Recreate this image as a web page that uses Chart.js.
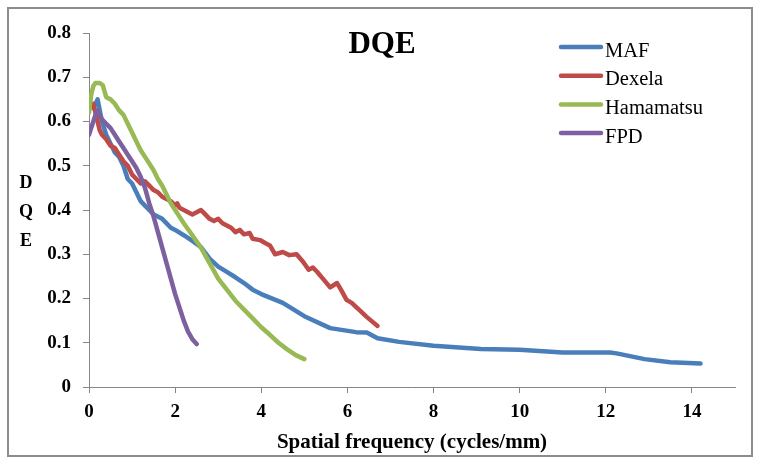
<!DOCTYPE html>
<html>
<head>
<meta charset="utf-8">
<script src="https://cdn.jsdelivr.net/npm/chart.js@4.4.0/dist/chart.umd.min.js"></script>
<style>
  html, body { margin: 0; padding: 0; background: #fff; }
  #wrap { width: 765px; height: 465px; }
</style>
</head>
<body>
<div id="wrap"><canvas id="dqeChart"></canvas></div>
<script>
const seriesNames = ['MAF', 'Dexela', 'Hamamatsu', 'FPD'];
const seriesColors = ['#4A7EBB', '#BE4B48', '#98B954', '#7D60A0'];
const xTickValues = [0, 2, 4, 6, 8, 10, 12, 14];

const mafFreq = [0.1, 0.2, 0.3, 0.4, 0.5, 0.6, 0.7, 0.8, 0.9, 1.0, 1.1, 1.2, 1.3, 1.5, 1.7, 1.9, 2.0, 2.2, 2.4, 2.6, 2.8, 3.0, 3.2, 3.4, 3.6, 3.8, 4.0, 4.5, 5.0, 5.6, 6.2, 6.45, 6.7, 7.2, 8.0, 9.1, 10.0, 11.0, 12.1, 12.25, 12.9, 13.5, 14.2];
const mafDqe  = [0.63, 0.65, 0.60, 0.57, 0.55, 0.53, 0.52, 0.50, 0.47, 0.46, 0.44, 0.42, 0.41, 0.39, 0.38, 0.36, 0.355, 0.343, 0.33, 0.316, 0.29, 0.272, 0.26, 0.248, 0.235, 0.22, 0.21, 0.19, 0.16, 0.133, 0.124, 0.123, 0.11, 0.102, 0.093, 0.086, 0.084, 0.078, 0.078, 0.076, 0.063, 0.056, 0.053];

const dexFreq = [0.1, 0.15, 0.2, 0.25, 0.3, 0.4, 0.5, 0.6, 0.7, 0.8, 0.9, 1.0, 1.1, 1.2, 1.3, 1.4, 1.5, 1.6, 1.7, 1.8, 1.9, 2.0, 2.05, 2.1, 2.2, 2.3, 2.4, 2.5, 2.6, 2.7, 2.8, 2.9, 3.0, 3.1, 3.2, 3.3, 3.4, 3.5, 3.6, 3.73, 3.8, 3.97, 4.1, 4.2, 4.32, 4.5, 4.65, 4.82, 4.97, 5.1, 5.2, 5.3, 5.43, 5.6, 5.76, 5.85, 5.98, 6.1, 6.21, 6.3, 6.44, 6.55, 6.7];
const dexDqe  = [0.64, 0.62, 0.60, 0.58, 0.57, 0.56, 0.545, 0.54, 0.525, 0.51, 0.50, 0.48, 0.47, 0.46, 0.465, 0.455, 0.445, 0.44, 0.43, 0.425, 0.42, 0.41, 0.415, 0.405, 0.40, 0.395, 0.39, 0.395, 0.40, 0.39, 0.38, 0.375, 0.38, 0.37, 0.365, 0.36, 0.35, 0.355, 0.345, 0.348, 0.335, 0.332, 0.325, 0.32, 0.30, 0.305, 0.298, 0.30, 0.283, 0.265, 0.27, 0.26, 0.245, 0.225, 0.235, 0.22, 0.197, 0.19, 0.18, 0.172, 0.159, 0.15, 0.138];

const hamFreq = [0.0, 0.05, 0.1, 0.15, 0.25, 0.32, 0.4, 0.5, 0.6, 0.7, 0.8, 0.9, 1.0, 1.1, 1.2, 1.3, 1.4, 1.5, 1.6, 1.7, 1.8, 1.9, 2.0, 2.1, 2.2, 2.4, 2.6, 2.8, 3.0, 3.2, 3.4, 3.6, 3.8, 4.0, 4.2, 4.4, 4.6, 4.8, 5.0];
const hamDqe  = [0.62, 0.66, 0.68, 0.687, 0.687, 0.682, 0.655, 0.65, 0.64, 0.625, 0.615, 0.595, 0.575, 0.555, 0.535, 0.52, 0.505, 0.49, 0.47, 0.455, 0.435, 0.415, 0.40, 0.385, 0.37, 0.343, 0.315, 0.28, 0.245, 0.22, 0.195, 0.175, 0.155, 0.135, 0.118, 0.1, 0.085, 0.072, 0.063];

const fpdFreq = [0.0, 0.05, 0.1, 0.15, 0.2, 0.25, 0.3, 0.4, 0.5, 0.6, 0.7, 0.8, 0.9, 1.0, 1.1, 1.2, 1.3, 1.4, 1.5, 1.6, 1.7, 1.8, 1.9, 2.0, 2.1, 2.2, 2.3, 2.4, 2.5];
const fpdDqe  = [0.57, 0.585, 0.60, 0.615, 0.625, 0.615, 0.605, 0.595, 0.585, 0.57, 0.555, 0.54, 0.525, 0.51, 0.495, 0.475, 0.45, 0.415, 0.385, 0.35, 0.315, 0.28, 0.245, 0.21, 0.18, 0.15, 0.125, 0.108, 0.097];

const serif = "'Liberation Serif', 'Times New Roman', serif";
const axisGray = '#868686';

function toPoints(xs, ys) {
  return xs.map((x, i) => ({ x: x, y: ys[i] }));
}

const allFreq = [mafFreq, dexFreq, hamFreq, fpdFreq];
const allDqe = [mafDqe, dexDqe, hamDqe, fpdDqe];

const datasets = seriesNames.map((name, i) => ({
  label: name,
  data: toPoints(allFreq[i], allDqe[i]),
  borderColor: seriesColors[i],
  backgroundColor: seriesColors[i],
  borderWidth: 4.5,
  borderJoinStyle: 'round',
  borderCapStyle: 'round',
  pointRadius: 0,
  tension: 0,
  order: seriesNames.length - i
}));

// frame, in-plot title, legend and the stacked y title
const decor = {
  id: 'decor',
  beforeDraw(chart) {
    const ctx = chart.ctx;
    ctx.save();
    ctx.fillStyle = '#fff';
    ctx.fillRect(0, 0, chart.width, chart.height);
    ctx.strokeStyle = '#8c8c8c';
    ctx.lineWidth = 2;
    ctx.strokeRect(8, 8, 744, 448);
    ctx.restore();
  },
  afterDraw(chart) {
    const ctx = chart.ctx;
    ctx.save();
    ctx.fillStyle = '#000';

    ctx.font = 'bold 31px ' + serif;
    ctx.textAlign = 'center';
    ctx.textBaseline = 'alphabetic';
    ctx.fillText('DQE', 382, 53);

    ctx.font = 'bold 18px ' + serif;
    ['D', 'Q', 'E'].forEach((ch, i) => ctx.fillText(ch, 26, 188 + i * 29));

    ctx.font = '20.5px ' + serif;
    ctx.textAlign = 'left';
    chart.data.datasets.forEach((ds, i) => {
      const y = 47 + i * 28.7;
      ctx.strokeStyle = ds.borderColor;
      ctx.lineWidth = 4.5;
      ctx.lineCap = 'round';
      ctx.beginPath();
      ctx.moveTo(561, y);
      ctx.lineTo(601, y);
      ctx.stroke();
      ctx.fillText(ds.label, 605, y + 9.5);
    });
    ctx.restore();
  }
};

const ctx = document.getElementById('dqeChart');
const dqeChart = new Chart(ctx, {
  type: 'line',
  data: { datasets: datasets },
  plugins: [decor],
  options: {
    responsive: true,
    maintainAspectRatio: false,
    animation: false,
    devicePixelRatio: 1,
    layout: { padding: { left: 40, right: 30, top: 33, bottom: 0 } },
    plugins: {
      legend: { display: false },
      title: { display: false },
      tooltip: { enabled: false }
    },
    scales: {
      x: {
        type: 'linear',
        min: 0,
        max: 15,
        afterBuildTicks: (s) => { s.ticks = xTickValues.map(v => ({ value: v })); },
        afterFit: (s) => { s.height = 78; },
        ticks: { stepSize: 2, color: '#000', padding: 8, font: { family: serif, size: 19, weight: 'bold' } },
        grid: { drawOnChartArea: false, drawTicks: true, tickLength: 6, color: axisGray },
        border: { color: axisGray, width: 1 },
        title: {
          display: true,
          text: 'Spatial frequency (cycles/mm)',
          color: '#000',
          font: { family: serif, size: 21, weight: 'bold' },
          padding: { top: 0, bottom: 10 }
        }
      },
      y: {
        min: 0,
        max: 0.8,
        afterFit: (s) => { s.width = 49; },
        ticks: { stepSize: 0.1, color: '#000', padding: 12, font: { family: serif, size: 19, weight: 'bold' } },
        grid: { drawOnChartArea: false, drawTicks: true, tickLength: 6, color: axisGray },
        border: { color: axisGray, width: 1 }
      }
    }
  }
});
</script>
</body>
</html>
